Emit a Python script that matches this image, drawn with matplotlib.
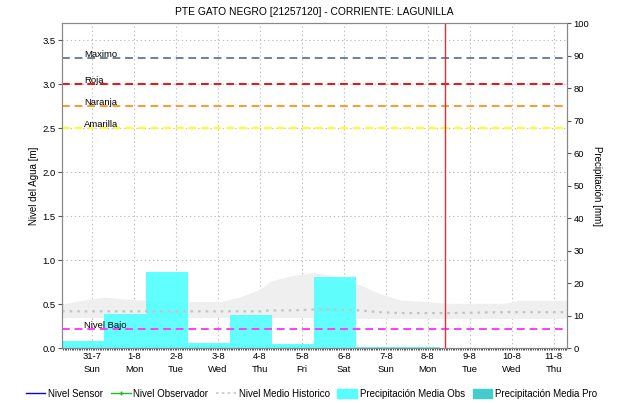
import matplotlib
matplotlib.use("Agg")
import matplotlib.pyplot as plt
import matplotlib.transforms as mtransforms
from matplotlib.lines import Line2D
from matplotlib.patches import Patch
import numpy as np

plt.rcParams['font.family'] = ['Liberation Sans', 'DejaVu Sans']

title = "PTE GATO NEGRO [21257120] - CORRIENTE: LAGUNILLA"

# x axis: days counted from 31-7 00:00
day_labels = ["31-7", "1-8", "2-8", "3-8", "4-8", "5-8", "6-8", "7-8", "8-8", "9-8", "10-8", "11-8"]
weekday_labels = ["Sun", "Mon", "Tue", "Wed", "Thu", "Fri", "Sat", "Sun", "Mon", "Tue", "Wed", "Thu"]

# daily rainfall (07:00 to 07:00), mm
rain_start = [-0.71, 0.29, 1.29, 2.29, 3.29, 4.29, 5.29, 6.29, 7.29]
rain_mm = [2.2, 10.6, 23.4, 1.6, 10.3, 1.4, 21.9, 0.45, 0.45]

# historic level band, m
hist_x = [-0.72, -0.3, 0.26, 1.07, 2.1, 3.05, 3.5, 4.0, 4.24, 4.7, 5.26, 5.67, 6.38, 6.86, 7.33, 8.52, 9.79, 10.19, 11.32]
hist_upper = [0.50, 0.54, 0.58, 0.55, 0.53, 0.53, 0.58, 0.67, 0.76, 0.82, 0.86, 0.83, 0.72, 0.62, 0.55, 0.51, 0.51, 0.545, 0.545]
hist_lower = [0.35, 0.35, 0.35, 0.35, 0.35, 0.35, 0.35, 0.35, 0.35, 0.35, 0.35, 0.35, 0.34, 0.34, 0.34, 0.34, 0.34, 0.34, 0.34]
hist_mean = [0.42, 0.42, 0.42, 0.42, 0.42, 0.42, 0.42, 0.42, 0.43, 0.43, 0.44, 0.44, 0.43, 0.41, 0.40, 0.40, 0.41, 0.41, 0.41]

# alert levels, m
level_names = ["Maximo", "Roja", "Naranja", "Amarilla", "Nivel Bajo"]
level_values = [3.30, 3.00, 2.75, 2.50, 0.22]
level_colors = ["#6f7fa3", "#f01010", "#ff9a2a", "#ffff1e", "#ff3cff"]

now_day = 8.40

fig = plt.figure(figsize=(6.23, 4.03), dpi=100)
ax = fig.add_axes([0.1, 0.1357, 0.8096, 0.8065])
ax2 = ax.twinx()
ax.set_xlim(-0.714, 11.31)
ax.set_ylim(0, 3.69)
ax2.set_ylim(0, 100)

# everything drawn on ax; rain bars use the mm scale of ax2
mm_trans = mtransforms.blended_transform_factory(ax.transData, ax2.transData)

ax.grid(True, color='#bdbdbd', ls=(0, (1.2, 2.5)), lw=0.8, zorder=0.5)
ax.set_axisbelow(True)

ax.fill_between(hist_x, hist_lower, hist_upper, color='#efefef', lw=0, zorder=1)
ax.bar(rain_start, rain_mm, width=1.0, align='edge', color='#55ffff', alpha=0.93,
       transform=mm_trans, zorder=2)
ax.plot(hist_x, hist_mean, color='#c4c4c4', ls=(0, (1.2, 2.2)), lw=1.6, zorder=3)

for name, val, col in zip(level_names, level_values, level_colors):
    ax.axhline(val, color=col, ls=(0, (4, 2.5)), lw=1.4, zorder=4)
    ax.text(-0.2, val + 0.012, name, fontsize=6.8, va='baseline', ha='left', zorder=5)

ax.axvline(now_day, color='#e03030', lw=1.0, zorder=6)

ax.set_yticks(np.arange(0, 3.6, 0.5))
ax.set_yticklabels([f"{v:.1f}" for v in np.arange(0, 3.6, 0.5)])
ax.set_xticks(range(len(day_labels)))
ax.set_xticklabels([f"{d}\n{w}" for d, w in zip(day_labels, weekday_labels)], linespacing=1.5)
ax.set_xticks(np.arange(-0.70, 11.31, 1 / 24), minor=True)
ax.set_ylabel("Nivel del Agua [m]", fontsize=7, labelpad=2)
ax.set_title(title, fontsize=7.4, pad=6)

ax2.set_yticks(np.arange(0, 101, 10))
ax2.set_ylabel("Precipitación [mm]", rotation=270, labelpad=9, fontsize=7)

for a in (ax, ax2):
    for s in a.spines.values():
        s.set_color('#888888')
    a.tick_params(labelsize=6.8, length=3, color='#555555', pad=2)
ax.tick_params(axis='x', which='minor', length=1.5, color='#333333')
ax.tick_params(axis='x', which='major', length=0, pad=3)

handles = [
    Line2D([], [], color='#0000ff', lw=1),
    Line2D([], [], color='#22bb22', lw=1, marker='+', markersize=3),
    Line2D([], [], color='#c8c8c8', lw=1.2, ls=(0, (1.5, 2))),
    Patch(color='#55ffff'),
    Patch(color='#44cccc'),
]
labels = ["Nivel Sensor", "Nivel Observador", "Nivel Medio Historico",
          "Precipitación Media Obs", "Precipitación Media Pro"]
fig.legend(handles, labels, loc='lower center', bbox_to_anchor=(0.5, -0.012), ncol=5,
           frameon=False, fontsize=7, handlelength=2.0, handletextpad=0.3,
           columnspacing=0.8, handleheight=1.0)

fig.savefig("out.png", dpi=100)
